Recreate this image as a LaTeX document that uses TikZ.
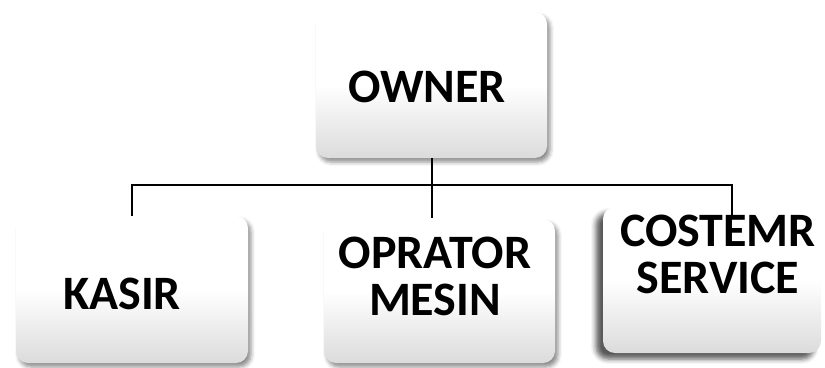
\documentclass[tikz,border=0pt]{standalone}
\usepackage{fontspec}
\setmainfont{Carlito}
\usetikzlibrary{shadows.blur}
\tikzset{
  box/.style={rectangle, rounded corners=12pt, inner sep=0pt,
    top color=white, bottom color=black!14, middle color=white,
    blur shadow={shadow xshift=3pt, shadow yshift=-4pt, shadow blur radius=4pt, shadow opacity=45}},
  boxdark/.style={rectangle, rounded corners=12pt, inner sep=0pt,
    top color=white, bottom color=black!14, middle color=white,
    blur shadow={shadow xshift=-7pt, shadow yshift=-6pt, shadow blur radius=5pt, shadow opacity=65}},
  lbl/.style={font=\fontsize{48}{47}\selectfont\bfseries, align=center, inner sep=0pt},
  conn/.style={line width=2pt, black}
}
\begin{document}
\begin{tikzpicture}[x=1pt,y=-1pt]
\useasboundingbox (0,0) rectangle (825,367);
\node[box, minimum width=231pt, minimum height=146pt] (owner) at (431.5,85) {};
\node[box, minimum width=232pt, minimum height=147pt] (kasir) at (132,289.5) {};
\node[box, minimum width=231pt, minimum height=144pt] (opr) at (439.5,291) {};
\node[boxdark, minimum width=218pt, minimum height=146pt] (cost) at (712,280) {};
\node[lbl] (ownert) at (427,87) {OWNER};
\node[lbl] (kasirt) at (122,294) {KASIR};
\node[lbl] (oprt) at (435,276) {OPRATOR\\MESIN};
\node[lbl] (costt) at (718,254) {COSTEMR\\SERVICE};
\coordinate (bus) at (432,185);
\coordinate (ownb) at (432,158);
\coordinate (oprtop) at (432,218);
\coordinate (costtop) at (732,215);
\draw[conn] (ownb) -- (bus);
\draw[conn] (kasir.north) |- (costtop |- bus) -- (costtop);
\draw[conn] (bus) -- (oprtop);
\end{tikzpicture}
\end{document}
